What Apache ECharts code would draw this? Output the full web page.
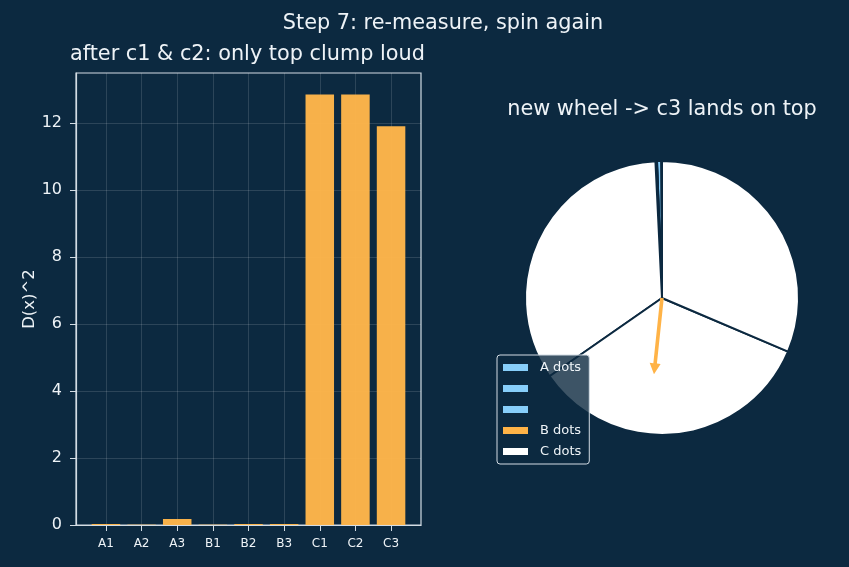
<!DOCTYPE html>
<html>
<head>
<meta charset="utf-8">
<title>Step 7: re-measure, spin again</title>
<script src="https://cdn.jsdelivr.net/npm/echarts@6/dist/echarts.min.js"></script>
<style>
html, body { margin: 0; padding: 0; background: #0c2940; }
#main { width: 849px; height: 567px; }
</style>
</head>
<body>
<div id="main"></div>
<script>
// 数据
const categories = ['A1', 'A2', 'A3', 'B1', 'B2', 'B3', 'C1', 'C2', 'C3']
const dxSquared = [0.03, 0.01, 0.18, 0.01, 0.03, 0.03, 12.85, 12.85, 11.9]
const yTicks = [0, 2, 4, 6, 8, 10, 12]
const legendNames = ['A1', 'A2', 'A3', 'B1', 'C1']
const legendLabels = ['A dots', '', '', 'B dots', 'C dots']
const spinAngle = [186] // 指针: 从正上方顺时针的角度

// 样式
const bg = '#0c2940'
const textColor = '#eef3f7'
const spineColor = '#d3dce4'
const gridColor = 'rgba(255,255,255,0.17)'
const groupColor = { A: '#87cefa', B: '#ffb347', C: '#ffffff' }

const gridLeft = 76
const gridWidth = 345
const xPad = 0.4 + 0.05 * (categories.length - 1 + 0.8)
const xSpan = categories.length - 1 + 2 * xPad
const barPx = 0.8 * gridWidth / xSpan
const yMax = Math.max(...dxSquared) * 1.05
const idx = categories.map((c, i) => i)

const titleStyle = { color: textColor, fontSize: 20.8, fontWeight: 'normal', lineHeight: 21 }

const chart = echarts.init(document.getElementById('main'))

const option = {
  backgroundColor: bg,
  animation: false,
  textStyle: { fontFamily: 'DejaVu Sans' },
  title: [
    {
      text: 'Step 7: re-measure, spin again',
      left: 443,
      top: 13,
      padding: 0,
      textAlign: 'center',
      textStyle: titleStyle
    },
    {
      text: 'after c1 & c2: only top clump loud',
      left: 70,
      top: 44,
      padding: 0,
      textStyle: titleStyle
    },
    {
      text: 'new wheel -> c3 lands on top',
      left: 662,
      top: 99,
      padding: 0,
      textAlign: 'center',
      textStyle: titleStyle
    }
  ],
  grid: {
    left: gridLeft,
    top: 73,
    width: gridWidth,
    height: 452,
    show: true,
    borderColor: spineColor,
    borderWidth: 1.2
  },
  xAxis: {
    type: 'value',
    min: -xPad,
    max: categories.length - 1 + xPad,
    axisLine: { show: true, onZero: false, lineStyle: { color: spineColor, width: 1.2 } },
    axisTick: { show: true, customValues: idx, length: 6, lineStyle: { color: spineColor } },
    axisLabel: {
      customValues: idx,
      formatter: v => categories[v],
      color: textColor,
      fontSize: 12,
      margin: 13
    },
    splitLine: { show: true, lineStyle: { color: gridColor, width: 0.8 } }
  },
  yAxis: {
    type: 'value',
    min: 0,
    max: yMax,
    name: 'D(x)^2',
    nameLocation: 'middle',
    nameGap: 35,
    nameTextStyle: { color: textColor, fontSize: 16.5 },
    axisLine: { show: true, onZero: false, lineStyle: { color: spineColor, width: 1.2 } },
    axisTick: { show: true, customValues: yTicks, length: 6, lineStyle: { color: spineColor } },
    axisLabel: { customValues: yTicks, color: textColor, fontSize: 16, margin: 14 },
    splitLine: { show: true, lineStyle: { color: gridColor, width: 0.8 } }
  },
  legend: {
    orient: 'vertical',
    left: 497,
    top: 355,
    data: legendNames,
    formatter: name => legendLabels[legendNames.indexOf(name)] || ' ',
    icon: 'rect',
    itemWidth: 25,
    itemHeight: 7,
    itemGap: 8,
    itemStyle: { borderWidth: 0 },
    textStyle: { color: textColor, fontSize: 13, padding: [0, 0, 0, 7] },
    backgroundColor: 'rgba(12,41,64,0.8)',
    borderColor: spineColor,
    borderWidth: 1,
    borderRadius: 3,
    padding: [6, 8, 6, 6]
  },
  series: [
    {
      type: 'bar',
      data: idx.map(i => [i, dxSquared[i]]),
      barWidth: barPx,
      itemStyle: { color: '#ffb64a', opacity: 0.97 },
      silent: true
    },
    {
      type: 'pie',
      z: 2,
      center: [662, 298],
      radius: 137,
      startAngle: 90,
      clockwise: false,
      label: { show: false },
      labelLine: { show: false },
      emphasis: { scale: false },
      silent: true,
      itemStyle: { borderColor: bg, borderWidth: 2 },
      data: categories.map((c, i) => ({
        name: c,
        value: dxSquared[i],
        itemStyle: { color: groupColor[c[0]] }
      }))
    },
    {
      type: 'gauge',
      z: 3,
      center: [662, 298],
      radius: 137,
      startAngle: 90,
      endAngle: -270,
      min: 0,
      max: 360,
      silent: true,
      axisLine: { show: false },
      axisTick: { show: false },
      splitLine: { show: false },
      axisLabel: { show: false },
      progress: { show: false },
      anchor: { show: false },
      title: { show: false },
      detail: { show: false },
      pointer: {
        show: true,
        icon: 'path://M5.5,0L11,11L7.3,11L7.3,77L3.7,77L3.7,11L0,11Z',
        length: '56%',
        width: 11,
        offsetCenter: [0, 0],
        itemStyle: { color: '#ffb347' }
      },
      data: spinAngle.map(v => ({ value: v }))
    }
  ]
}

chart.setOption(option)
</script>
</body>
</html>
